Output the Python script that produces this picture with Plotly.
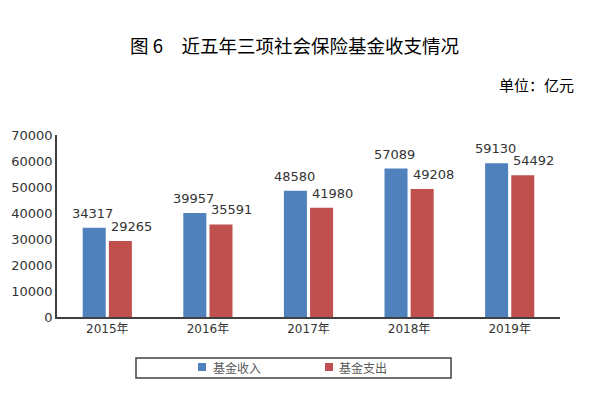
import plotly.graph_objects as go

years = ["2015年", "2016年", "2017年", "2018年", "2019年"]
income = [34317, 39957, 48580, 57089, 59130]
expense = [29265, 35591, 41980, 49208, 54492]
series_names = ["基金收入", "基金支出"]
colors = ["#4F81BD", "#C0504D"]
y_ticks = [0, 10000, 20000, 30000, 40000, 50000, 60000, 70000]

W, H = 593, 398
L, R, T, B = 57, 33, 135, 81

fig = go.Figure()
for name, vals, c in zip(series_names, [income, expense], colors):
    fig.add_trace(go.Bar(x=years, y=vals, name=name, marker=dict(color=c, line=dict(width=0)),
                         showlegend=False, hoverinfo="skip"))

num_font = dict(family="DejaVu Sans, Noto Sans CJK SC", size=13, color="#333333")
annotations = []
for i, y in enumerate(years):
    annotations.append(dict(x=y, y=income[i], text=str(income[i]), showarrow=False,
                            xanchor="center", yanchor="bottom", xshift=-14.5, yshift=5, font=num_font))
    annotations.append(dict(x=y, y=expense[i], text=str(expense[i]), showarrow=False,
                            xanchor="center", yanchor="bottom", xshift=24, yshift=5, font=num_font))

def px(xp):
    return (xp - L) / (W - L - R)

def py(yp):
    return (H - yp - B) / (H - T - B)

# title and unit
annotations.append(dict(xref="paper", yref="paper", x=px(294), y=py(45),
                        text="图 6　近五年三项社会保险基金收支情况", showarrow=False,
                        xanchor="center", yanchor="middle",
                        font=dict(family="Noto Sans CJK SC", size=18.5, color="#000000")))
annotations.append(dict(xref="paper", yref="paper", x=px(576), y=py(84),
                        text="单位：亿元", showarrow=False, xanchor="right", yanchor="middle",
                        font=dict(family="Noto Sans CJK SC", size=15, color="#000000")))

shapes = [dict(type="rect", xref="paper", yref="paper", x0=px(136), x1=px(451), y0=py(378), y1=py(358),
               line=dict(color="#404040", width=1.5), fillcolor="rgba(0,0,0,0)")]
leg_pos = [(198, 211), (325, 337)]
for (sx, tx), name, c in zip(leg_pos, series_names, colors):
    shapes.append(dict(type="rect", xref="paper", yref="paper", x0=px(sx), x1=px(sx + 8),
                       y0=py(371), y1=py(363), line=dict(width=0), fillcolor=c))
    annotations.append(dict(xref="paper", yref="paper", x=px(tx), y=py(367), text=name, showarrow=False,
                            xanchor="left", yanchor="middle",
                            font=dict(family="Noto Sans CJK SC", size=12, color="#595959")))

fig.update_layout(
    width=W, height=H, margin=dict(l=L, r=R, t=T, b=B),
    paper_bgcolor="white", plot_bgcolor="white",
    barmode="group", bargap=0.48, bargroupgap=0.12,
    annotations=annotations, shapes=shapes, showlegend=False,
    xaxis=dict(showline=True, linecolor="#404040", linewidth=1.5, ticks="", showgrid=False,
               tickfont=dict(family="DejaVu Sans, Noto Sans CJK SC", size=12, color="#333333")),
    yaxis=dict(range=[0, 70000], tickvals=y_ticks, ticktext=[str(v) for v in y_ticks],
               showline=True, linecolor="#404040", linewidth=1.5, ticks="", showgrid=False,
               zeroline=False, tickfont=num_font),
)
fig.write_html("out.html", config={"displayModeBar": False},
               post_script="document.body.style.margin='0';document.body.style.overflow='hidden';")
